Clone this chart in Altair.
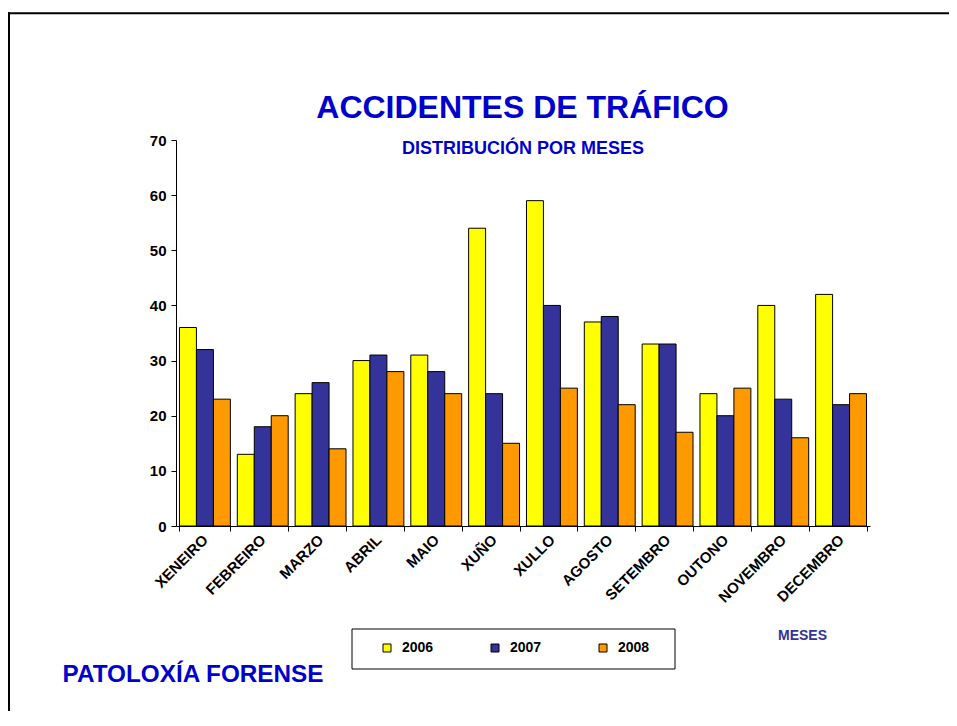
import altair as alt
import pandas as pd

months = ["XENEIRO", "FEBREIRO", "MARZO", "ABRIL", "MAIO", "XUÑO", "XULLO",
          "AGOSTO", "SETEMBRO", "OUTONO", "NOVEMBRO", "DECEMBRO"]
years = ["2006", "2007", "2008"]
v2006 = [36, 13, 24, 30, 31, 54, 59, 37, 33, 24, 40, 42]
v2007 = [32, 18, 26, 31, 28, 24, 40, 38, 33, 20, 23, 22]
v2008 = [23, 20, 14, 28, 24, 15, 25, 22, 17, 25, 16, 24]
colors = ["#FFFF00", "#333399", "#FF9900"]
y_ticks = [0, 10, 20, 30, 40, 50, 60, 70]

title_text = "ACCIDENTES DE TRÁFICO"
subtitle_text = "DISTRIBUCIÓN POR MESES"
axis_text = "MESES"
footer_text = "PATOLOXÍA FORENSE"

rows = []
for yr, vals in zip(years, [v2006, v2007, v2008]):
    for m, v in zip(months, vals):
        rows.append({"mes": m, "ano": yr, "valor": v})
df = pd.DataFrame(rows)

FONT = "Liberation Sans"
BLUE = "#0000CC"

bars = alt.Chart(df).mark_bar(stroke="black", strokeWidth=1).encode(
    x=alt.X("mes:N", sort=months, title=None,
            scale=alt.Scale(paddingInner=0.12, paddingOuter=0.06),
            axis=alt.Axis(labelAngle=-45, labelFont=FONT, labelFontSize=15,
                          labelFontWeight="bold", labelColor="black",
                          domainColor="black", tickColor="black", tickSize=5,
                          tickBand="extent", labelPadding=6, labelAlign="right",
                          labelBaseline="middle", grid=False)),
    xOffset=alt.XOffset("ano:N", sort=years,
                        scale=alt.Scale(paddingInner=0, paddingOuter=0)),
    y=alt.Y("valor:Q", title=None,
            scale=alt.Scale(domain=[0, 70], nice=False),
            axis=alt.Axis(values=y_ticks, labelFont=FONT, labelFontSize=15,
                          labelFontWeight="bold", labelColor="black",
                          domainColor="black", tickColor="black", tickSize=5,
                          labelPadding=5, grid=False)),
    color=alt.Color("ano:N", sort=years,
                    scale=alt.Scale(domain=years, range=colors),
                    legend=alt.Legend(title=None, orient="none", legendX=204, legendY=501,
                                      direction="horizontal", columns=3,
                                      symbolType="square", symbolSize=64,
                                      symbolStrokeColor="black", symbolStrokeWidth=1,
                                      labelFont=FONT, labelFontSize=14,
                                      labelFontWeight="bold", labelColor="black",
                                      labelOffset=8, columnPadding=54, padding=0)),
)

legend_box = alt.Chart(pd.DataFrame({"a": [0]})).mark_rect(
    fill="white", stroke="black", strokeWidth=1
).encode(x=alt.value(176), x2=alt.value(499), y=alt.value(489), y2=alt.value(529))

title = alt.Chart(pd.DataFrame({"a": [0]})).mark_text(
    text=title_text, font=FONT, fontSize=32, fontWeight="bold", color=BLUE,
    align="center", baseline="alphabetic"
).encode(x=alt.value(346.5), y=alt.value(-22))

subtitle = alt.Chart(pd.DataFrame({"a": [0]})).mark_text(
    text=subtitle_text, font=FONT, fontSize=18, fontWeight="bold", color=BLUE,
    align="center", baseline="alphabetic"
).encode(x=alt.value(347), y=alt.value(14))

meses = alt.Chart(pd.DataFrame({"a": [0]})).mark_text(
    text=axis_text, font=FONT, fontSize=14, fontWeight="bold", color="#333399",
    align="left", baseline="alphabetic"
).encode(x=alt.value(602), y=alt.value(500))

footer = alt.Chart(pd.DataFrame({"a": [0]})).mark_text(
    text=footer_text, font=FONT, fontSize=24.3, fontWeight="bold", color=BLUE,
    align="left", baseline="alphabetic"
).encode(x=alt.value(-113.5), y=alt.value(542))

top_line = alt.Chart(pd.DataFrame({"a": [0]})).mark_rule(
    color="black", strokeWidth=2
).encode(x=alt.value(-172), x2=alt.value(790), y=alt.value(-126.7))

left_line = alt.Chart(pd.DataFrame({"a": [0]})).mark_rule(
    color="black", strokeWidth=2
).encode(x=alt.value(-167), y=alt.value(-127.7), y2=alt.value(600))

chart = alt.layer(
    legend_box, bars, title, subtitle, meses, footer, top_line, left_line
).properties(
    width=694, height=386,
    autosize=alt.AutoSizeParams(type="none"),
    padding={"left": 168, "top": 132, "right": 79, "bottom": 185},
).configure_view(strokeWidth=0)

chart.save("out.html", embed_options={"renderer": "svg", "actions": False})
